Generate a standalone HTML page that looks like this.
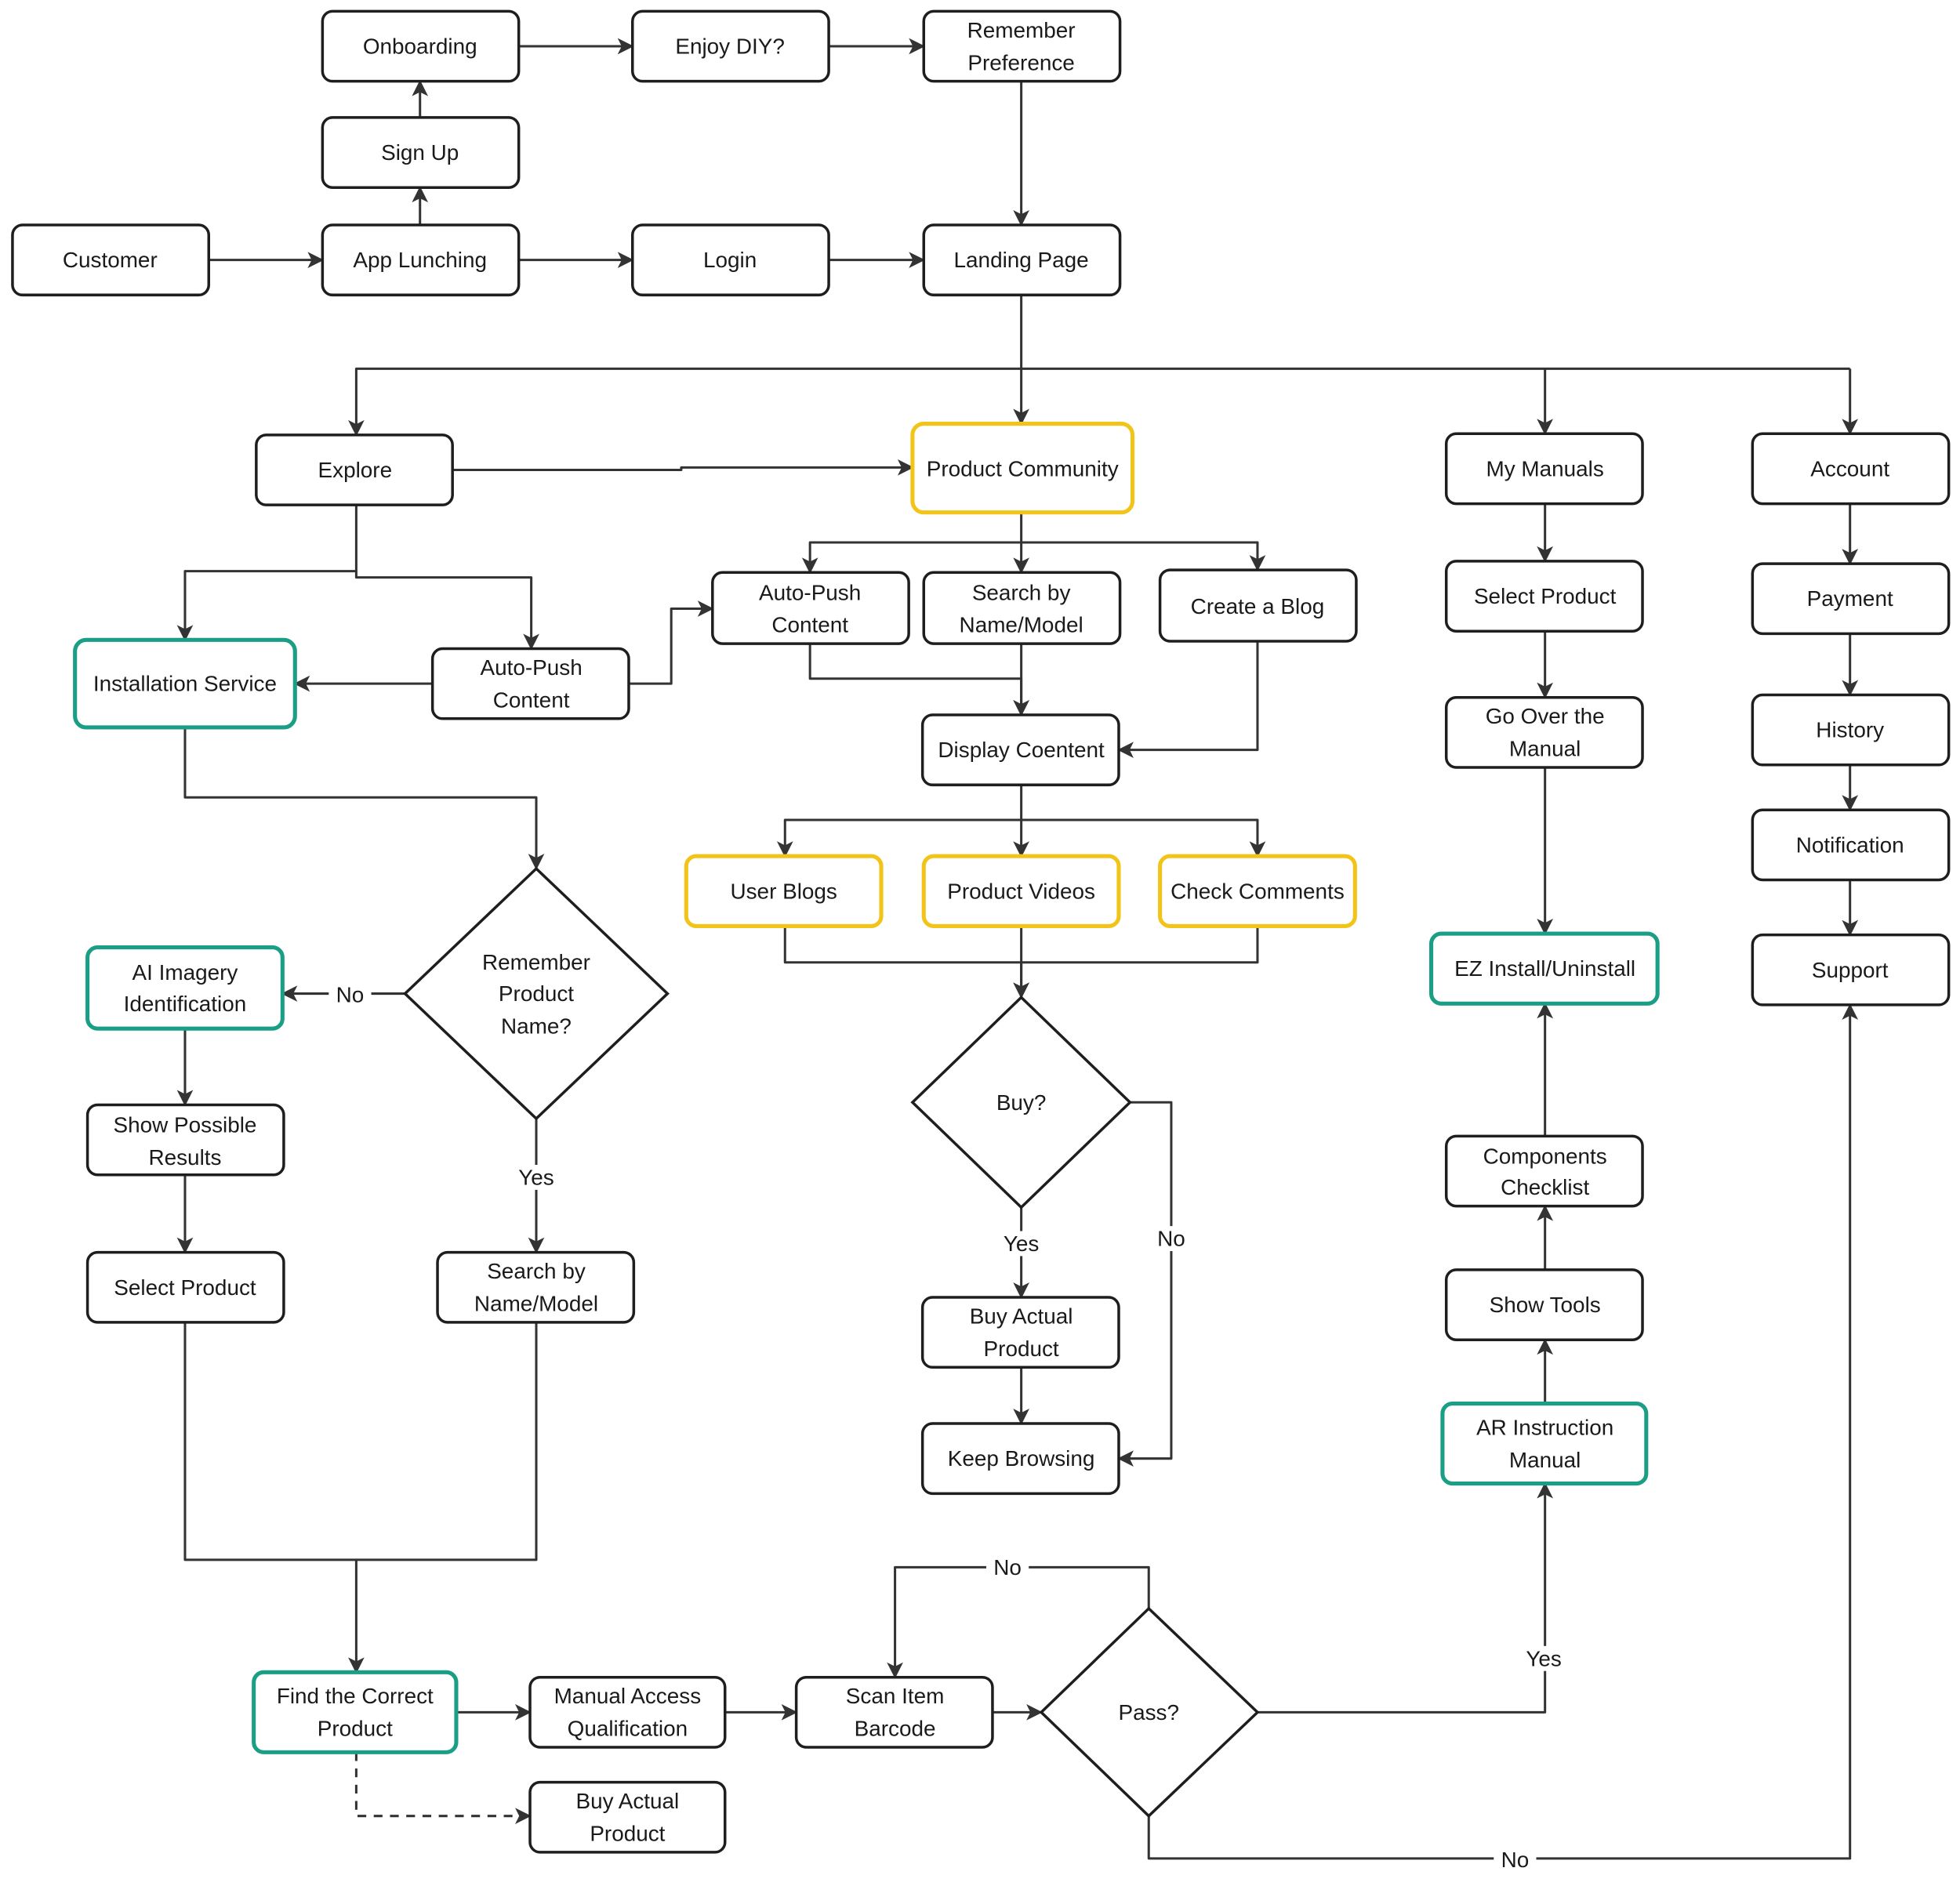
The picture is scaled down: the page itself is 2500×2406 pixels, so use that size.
<!DOCTYPE html>
<html><head><meta charset="utf-8"><style>
html,body{margin:0;padding:0;background:#fff}
svg{display:block}
text{font-family:"Liberation Sans",sans-serif;font-size:17.5px;fill:#1a1a1a;text-anchor:middle;dominant-baseline:central}
.b{fill:#fff;stroke:#1e1e1e;stroke-width:2.2}
.y{fill:#fff;stroke:#f2c318;stroke-width:3.2}
.g{fill:#fff;stroke:#1a9e86;stroke-width:3.2}
.l{fill:none;stroke:#333;stroke-width:1.9;stroke-linejoin:round}
.lbl{fill:#333}
</style></head><body>
<svg width="2500" height="2406" viewBox="0 0 1568 1509" xmlns="http://www.w3.org/2000/svg">
<defs><marker id="a" viewBox="0 0 12 12" refX="11" refY="6" markerWidth="13" markerHeight="13" markerUnits="userSpaceOnUse" orient="auto"><path d="M0,0 L12,6 L0,12 L3,6 Z" fill="#333"/></marker></defs>
<rect width="1568" height="1509" fill="#fff"/>
<g class="l">
<path d="M1006,741V770H817"/><path d="M429,1058V1248H285"/><path d="M1236,295H1480"/>
</g>
<g class="l" marker-end="url(#a)">
<path d="M167,208H258"/><path d="M336,180V150"/><path d="M336,94V65"/>
<path d="M415,37H506"/><path d="M663,37H739"/><path d="M817,65V180"/>
<path d="M415,208H506"/><path d="M663,208H739"/>
<path d="M817,236V339"/>
<path d="M817,295H285V348"/>
<path d="M817,295H1236V347"/>
<path d="M1480,295V347"/>
<path d="M362,376H545V374H730"/>
<path d="M285,404V457H148V512"/>
<path d="M285,457V462H425V519"/>
<path d="M346,547H236"/>
<path d="M503,547H537V487H570"/>
<path d="M817,410V458"/><path d="M817,434H648V458"/><path d="M817,434H1006V456"/>
<path d="M648,515V543H817V572"/><path d="M817,515V572"/>
<path d="M1006,513V600H895"/>
<path d="M817,628V685"/><path d="M817,656H628V685"/><path d="M817,656H1006V685"/>
<path d="M628,741V770H817V798"/><path d="M817,741V798"/>
<path d="M817,966V1038"/><path d="M817,1094V1139"/>
<path d="M904,882H937V1167H895"/>
<path d="M148,582V638H429V695"/>
<path d="M324,795H226"/>
<path d="M429,895V1002"/>
<path d="M148,823V884"/><path d="M148,940V1002"/>
<path d="M148,1058V1248H285V1338"/>
<path d="M365,1370H424"/><path d="M580,1370H637"/><path d="M794,1370H833"/>
<path d="M285,1402V1453H424" stroke-dasharray="7,6"/>
<path d="M919,1287V1254H716V1342"/>
<path d="M1006,1370H1236V1187"/>
<path d="M919,1453V1487H1480V804"/>
<path d="M1236,403V449"/><path d="M1236,505V558"/><path d="M1236,614V747"/>
<path d="M1236,909V803"/><path d="M1236,1016V965"/><path d="M1236,1123V1072"/>
<path d="M1480,403V451"/><path d="M1480,507V556"/><path d="M1480,612V648"/><path d="M1480,704V748"/>
</g>
<g fill="#fff">
<rect x="263" y="786" width="34" height="20"/><rect x="411" y="932" width="36" height="20"/>
<rect x="798" y="985" width="38" height="20"/><rect x="920" y="981" width="34" height="20"/>
<rect x="789" y="1244" width="34" height="20"/><rect x="1216" y="1317" width="38" height="20"/>
<rect x="1195" y="1478" width="34" height="20"/>
</g>
<g class="lbl">
<text x="280" y="796">No</text><text x="429" y="942">Yes</text><text x="817" y="995">Yes</text>
<text x="937" y="991">No</text><text x="806" y="1254">No</text><text x="1235" y="1327">Yes</text><text x="1212" y="1488">No</text>
</g>
<g>
<rect class="b" x="258" y="9" width="157" height="56" rx="8"/><text x="336" y="37">Onboarding</text>
<rect class="b" x="506" y="9" width="157" height="56" rx="8"/><text x="584" y="37">Enjoy DIY?</text>
<rect class="b" x="739" y="9" width="157" height="56" rx="8"/><text x="817" y="24">Remember</text><text x="817" y="50">Preference</text>
<rect class="b" x="258" y="94" width="157" height="56" rx="8"/><text x="336" y="122">Sign Up</text>
<rect class="b" x="10" y="180" width="157" height="56" rx="8"/><text x="88" y="208">Customer</text>
<rect class="b" x="258" y="180" width="157" height="56" rx="8"/><text x="336" y="208">App Lunching</text>
<rect class="b" x="506" y="180" width="157" height="56" rx="8"/><text x="584" y="208">Login</text>
<rect class="b" x="739" y="180" width="157" height="56" rx="8"/><text x="817" y="208">Landing Page</text>
<rect class="b" x="205" y="348" width="157" height="56" rx="8"/><text x="284" y="376">Explore</text>
<rect class="y" x="730" y="339" width="176" height="71" rx="9"/><text x="818" y="375">Product Community</text>
<rect class="b" x="1157" y="347" width="157" height="56" rx="8"/><text x="1236" y="375">My Manuals</text>
<rect class="b" x="1402" y="347" width="157" height="56" rx="8"/><text x="1480" y="375">Account</text>
<rect class="b" x="570" y="458" width="157" height="57" rx="8"/><text x="648" y="474">Auto-Push</text><text x="648" y="500">Content</text>
<rect class="b" x="739" y="458" width="157" height="57" rx="8"/><text x="817" y="474">Search by</text><text x="817" y="500">Name/Model</text>
<rect class="b" x="928" y="456" width="157" height="57" rx="8"/><text x="1006" y="485">Create a Blog</text>
<rect class="g" x="60" y="512" width="176" height="70" rx="9"/><text x="148" y="547">Installation Service</text>
<rect class="b" x="346" y="519" width="157" height="56" rx="8"/><text x="425" y="534">Auto-Push</text><text x="425" y="560">Content</text>
<rect class="b" x="1157" y="449" width="157" height="56" rx="8"/><text x="1236" y="477">Select Product</text>
<rect class="b" x="1402" y="451" width="157" height="56" rx="8"/><text x="1480" y="479">Payment</text>
<rect class="b" x="1157" y="558" width="157" height="56" rx="8"/><text x="1236" y="573">Go Over the</text><text x="1236" y="599">Manual</text>
<rect class="b" x="1402" y="556" width="157" height="56" rx="8"/><text x="1480" y="584">History</text>
<rect class="b" x="738" y="572" width="157" height="56" rx="8"/><text x="817" y="600">Display Coentent</text>
<rect class="b" x="1402" y="648" width="157" height="56" rx="8"/><text x="1480" y="676">Notification</text>
<rect class="y" x="549" y="685" width="156" height="56" rx="8"/><text x="627" y="713">User Blogs</text>
<rect class="y" x="739" y="685" width="156" height="56" rx="8"/><text x="817" y="713">Product Videos</text>
<rect class="y" x="928" y="685" width="156" height="56" rx="8"/><text x="1006" y="713">Check Comments</text>
<rect class="g" x="1145" y="747" width="181" height="56" rx="8"/><text x="1236" y="775">EZ Install/Uninstall</text>
<rect class="b" x="1402" y="748" width="157" height="56" rx="8"/><text x="1480" y="776">Support</text>
<path class="b" d="M429,695L534,795L429,895L324,795Z"/><text x="429" y="770">Remember</text><text x="429" y="795">Product</text><text x="429" y="821">Name?</text>
<rect class="g" x="70" y="758" width="156" height="65" rx="8"/><text x="148" y="778">AI Imagery</text><text x="148" y="803">Identification</text>
<path class="b" d="M817,798L904,882L817,966L730,882Z"/><text x="817" y="882">Buy?</text>
<rect class="b" x="70" y="884" width="157" height="56" rx="8"/><text x="148" y="900">Show Possible</text><text x="148" y="926">Results</text>
<rect class="b" x="1157" y="909" width="157" height="56" rx="8"/><text x="1236" y="925">Components</text><text x="1236" y="950">Checklist</text>
<rect class="b" x="70" y="1002" width="157" height="56" rx="8"/><text x="148" y="1030">Select Product</text>
<rect class="b" x="350" y="1002" width="157" height="56" rx="8"/><text x="429" y="1017">Search by</text><text x="429" y="1043">Name/Model</text>
<rect class="b" x="1157" y="1016" width="157" height="56" rx="8"/><text x="1236" y="1044">Show Tools</text>
<rect class="b" x="738" y="1038" width="157" height="56" rx="8"/><text x="817" y="1053">Buy Actual</text><text x="817" y="1079">Product</text>
<rect class="g" x="1154" y="1123" width="163" height="64" rx="8"/><text x="1236" y="1142">AR Instruction</text><text x="1236" y="1168">Manual</text>
<rect class="b" x="738" y="1139" width="157" height="56" rx="8"/><text x="817" y="1167">Keep Browsing</text>
<rect class="g" x="203" y="1338" width="162" height="64" rx="8"/><text x="284" y="1357">Find the Correct</text><text x="284" y="1383">Product</text>
<rect class="b" x="424" y="1342" width="156" height="56" rx="8"/><text x="502" y="1357">Manual Access</text><text x="502" y="1383">Qualification</text>
<rect class="b" x="637" y="1342" width="157" height="56" rx="8"/><text x="716" y="1357">Scan Item</text><text x="716" y="1383">Barcode</text>
<path class="b" d="M919,1287L1006,1370L919,1453L833,1370Z"/><text x="919" y="1370">Pass?</text>
<rect class="b" x="424" y="1426" width="156" height="56" rx="8"/><text x="502" y="1441">Buy Actual</text><text x="502" y="1467">Product</text>
</g>
</svg>
</body></html>
